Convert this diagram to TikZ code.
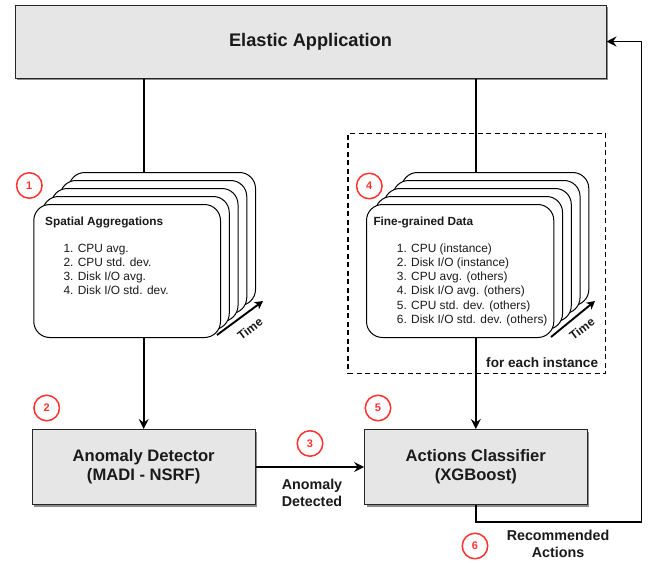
\documentclass[tikz,border=0pt]{standalone}
\usepackage{fontspec}
\setmainfont{Liberation Sans}
\usetikzlibrary{arrows.meta,shadows}

\definecolor{boxfill}{HTML}{E6E6E6}
\definecolor{stepred}{HTML}{FF3333}
\definecolor{ink}{HTML}{1A1A1A}

\begin{document}
\begin{tikzpicture}[x=1pt,y=-1pt,
  tip/.style={-{Stealth[length=10pt,width=10pt,inset=3.5pt]}},
  conn/.style={draw=black, line width=1.6pt},
  procbox/.style={draw=black!85, fill=boxfill, line width=1pt,
    drop shadow={shadow xshift=2pt, shadow yshift=-2pt, fill=black!45, opacity=1},
    font=\fontsize{16.6}{19}\selectfont\bfseries, text=ink, align=center, inner sep=0pt},
  card/.style={draw=black, fill=white, line width=1pt, rounded corners=16pt,
    inner sep=0pt, anchor=north west},
  stepmark/.style={circle, draw=stepred, line width=1.5pt, minimum size=25.5pt,
    inner sep=0pt, text=stepred, font=\fontsize{11}{11}\selectfont\bfseries},
  cardtitle/.style={anchor=west, inner sep=0pt, text=ink,
    font=\fontsize{11.8}{14}\selectfont\bfseries},
  cardlist/.style={anchor=north west, inner sep=0pt, align=left, text=ink,
    font=\fontsize{11.9}{14.2}\selectfont},
  lbl/.style={inner sep=0pt, align=center, text=ink,
    font=\fontsize{14.3}{17}\selectfont\bfseries},
  timearrow/.style={draw=black, line width=1.9pt, -{Stealth[length=8pt,width=8.5pt,inset=2pt]}},
  timelbl/.style={inner sep=0pt, rotate=37, text=ink, font=\fontsize{12}{12}\selectfont\bfseries}
]
\useasboundingbox (0,0) rectangle (655,562);
\fill[white] (0,0) rectangle (655,562);

% main process boxes
\node[procbox, minimum width=591pt, minimum height=73pt,
  font=\fontsize{18.2}{21}\selectfont\bfseries] (ea) at (310.5,41.5) {Elastic Application};
\node[procbox, minimum width=222.6pt, minimum height=75pt] (det) at (143.7,467)
  {Anomaly Detector\\(MADI - NSRF)};
\node[procbox, minimum width=222.4pt, minimum height=75pt] (cls) at (475.8,467)
  {Actions Classifier\\(XGBoost)};

% data flows (cards are stacked on top afterwards)
\draw[conn, tip] (ea.south -| det.north) -- (det.north);
\draw[conn, tip] (ea.south -| cls.north) -- (cls.north);
\draw[conn, tip] (det.east) -- (cls.west);
\coordinate (fbcorner) at (641.5,522);
\draw[conn, tip] (cls.south) |- (fbcorner) |- (ea.east);

% per-instance window
\node[draw=black, line width=1.4pt, dash pattern=on 5pt off 3.5pt, inner sep=0pt,
  minimum width=257.7pt, minimum height=240pt, anchor=north west] (win) at (347.3,133) {};

% stack of spatial aggregation windows
\foreach \k in {4,3,2,1,0}{
  \node[card, minimum width=186.7pt, minimum height=133pt] (sa\k) at (33.3+8.75*\k, 204-8*\k) {};
}
\node[cardtitle] (satitle) at (45,222) {Spatial Aggregations};
\node[cardlist] (salist) at (63.3,243.5)
  {1. CPU avg.\\2. CPU std. dev.\\3. Disk I/O avg.\\4. Disk I/O std. dev.};
\coordinate (sat0) at (217,335);
\coordinate (sat1) at (263,301);
\draw[timearrow] (sat0) -- (sat1);
\node[timelbl] (satime) at (250,328.5) {Time};

% stack of fine-grained windows
\foreach \k in {4,3,2,1,0}{
  \node[card, minimum width=187.3pt, minimum height=133pt] (fg\k) at (366+8.75*\k, 204-8*\k) {};
}
\node[cardtitle] (fgtitle) at (373.3,222) {Fine-grained Data};
\node[cardlist] (fglist) at (396.7,243.5)
  {1. CPU (instance)\\2. Disk I/O (instance)\\3. CPU avg. (others)\\4. Disk I/O avg. (others)\\5. CPU std. dev. (others)\\6. Disk I/O std. dev. (others)};
\coordinate (fgt0) at (551,337);
\coordinate (fgt1) at (595,301);
\draw[timearrow] (fgt0) -- (fgt1);
\node[timelbl] (fgtime) at (582,328.5) {Time};

\node[lbl, anchor=east, font=\fontsize{13.6}{16}\selectfont\bfseries] (each) at (598.3,363) {for each instance};

% edge labels
\node[lbl] (anomlbl) at (312,492.5) {Anomaly\\Detected};
\node[lbl] (reclbl) at (558,544) {Recommended\\Actions};

% step markers
\node[stepmark] (m1) at (29.3,185.5) {1};
\node[stepmark] (m2) at (46.7,408) {2};
\node[stepmark] (m3) at (310,443.5) {3};
\node[stepmark] (m4) at (369.3,186) {4};
\node[stepmark] (m5) at (378,408) {5};
\node[stepmark] (m6) at (475,546) {6};
\end{tikzpicture}
\end{document}
